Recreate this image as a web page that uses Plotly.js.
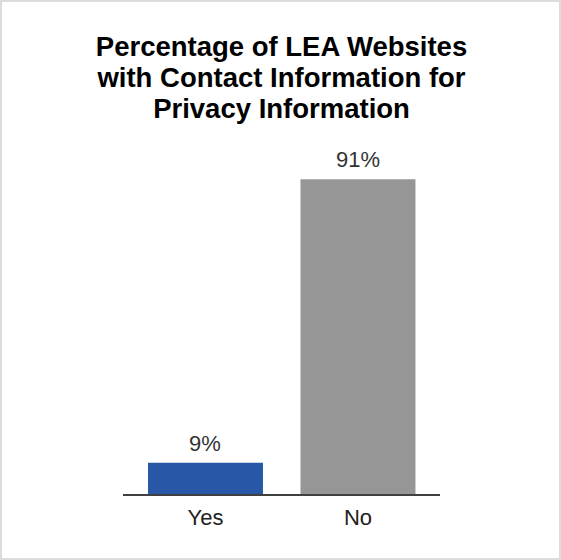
<!DOCTYPE html>
<html>
<head>
<meta charset="utf-8">
<script src="https://cdn.plot.ly/plotly-3.0.1.min.js"></script>
<style>
  html, body { margin: 0; padding: 0; background: #fff; }
  #wrap { width: 561px; height: 560px; box-sizing: border-box; border: 2px solid #dcdcdc; }
  #chart { width: 557px; height: 556px; }
</style>
</head>
<body>
<div id="wrap"><div id="chart"></div></div>
<script>
const categories = ["Yes", "No"];
const percentages = [9, 91];
const valueLabels = ["9%", "91%"];
const barColors = ["#2757a6", "#969696"];
const titleLines = ["Percentage of LEA Websites", "with Contact Information for", "Privacy Information"];

const FONT = "Liberation Sans, Arial, sans-serif";

const trace = {
  type: "bar",
  x: categories,
  y: percentages,
  cliponaxis: false,
  marker: { color: barColors, line: { width: 0 } },
  width: 0.754,
  hoverinfo: "skip"
};

const annotations = categories.map((c, i) => ({
  x: c,
  y: percentages[i],
  xref: "x",
  yref: "y",
  text: valueLabels[i],
  showarrow: false,
  xanchor: "center",
  yanchor: "bottom",
  yshift: 5,
  font: { family: FONT, size: 22, color: "#333333" }
}));

const layout = {
  width: 557,
  height: 556,
  paper_bgcolor: "#ffffff",
  plot_bgcolor: "#ffffff",
  margin: { l: 121, r: 119, t: 146, b: 64 },
  showlegend: false,
  title: {
    text: titleLines.map(t => '<span style="font-size:27.5px"><b>' + t + '</b></span>').join("<br>"),
    font: { family: FONT, size: 24, color: "#000000" },
    x: 0.5,
    xanchor: "center",
    xref: "paper",
    yref: "container",
    y: 1 - 54 / 556,
    yanchor: "top"
  },
  annotations: annotations,
  xaxis: {
    type: "category",
    range: [-0.541, 1.538],
    showline: true,
    linecolor: "#404040",
    linewidth: 1.5,
    ticks: "",
    ticklabelstandoff: 3,
    showgrid: false,
    zeroline: false,
    tickfont: { family: FONT, size: 22, color: "#222222" },
    fixedrange: true
  },
  yaxis: {
    range: [0, 100],
    showgrid: false,
    zeroline: false,
    showline: false,
    showticklabels: false,
    ticks: "",
    fixedrange: true
  }
};

Plotly.newPlot("chart", [trace], layout, { displayModeBar: false, staticPlot: true });
</script>
</body>
</html>
